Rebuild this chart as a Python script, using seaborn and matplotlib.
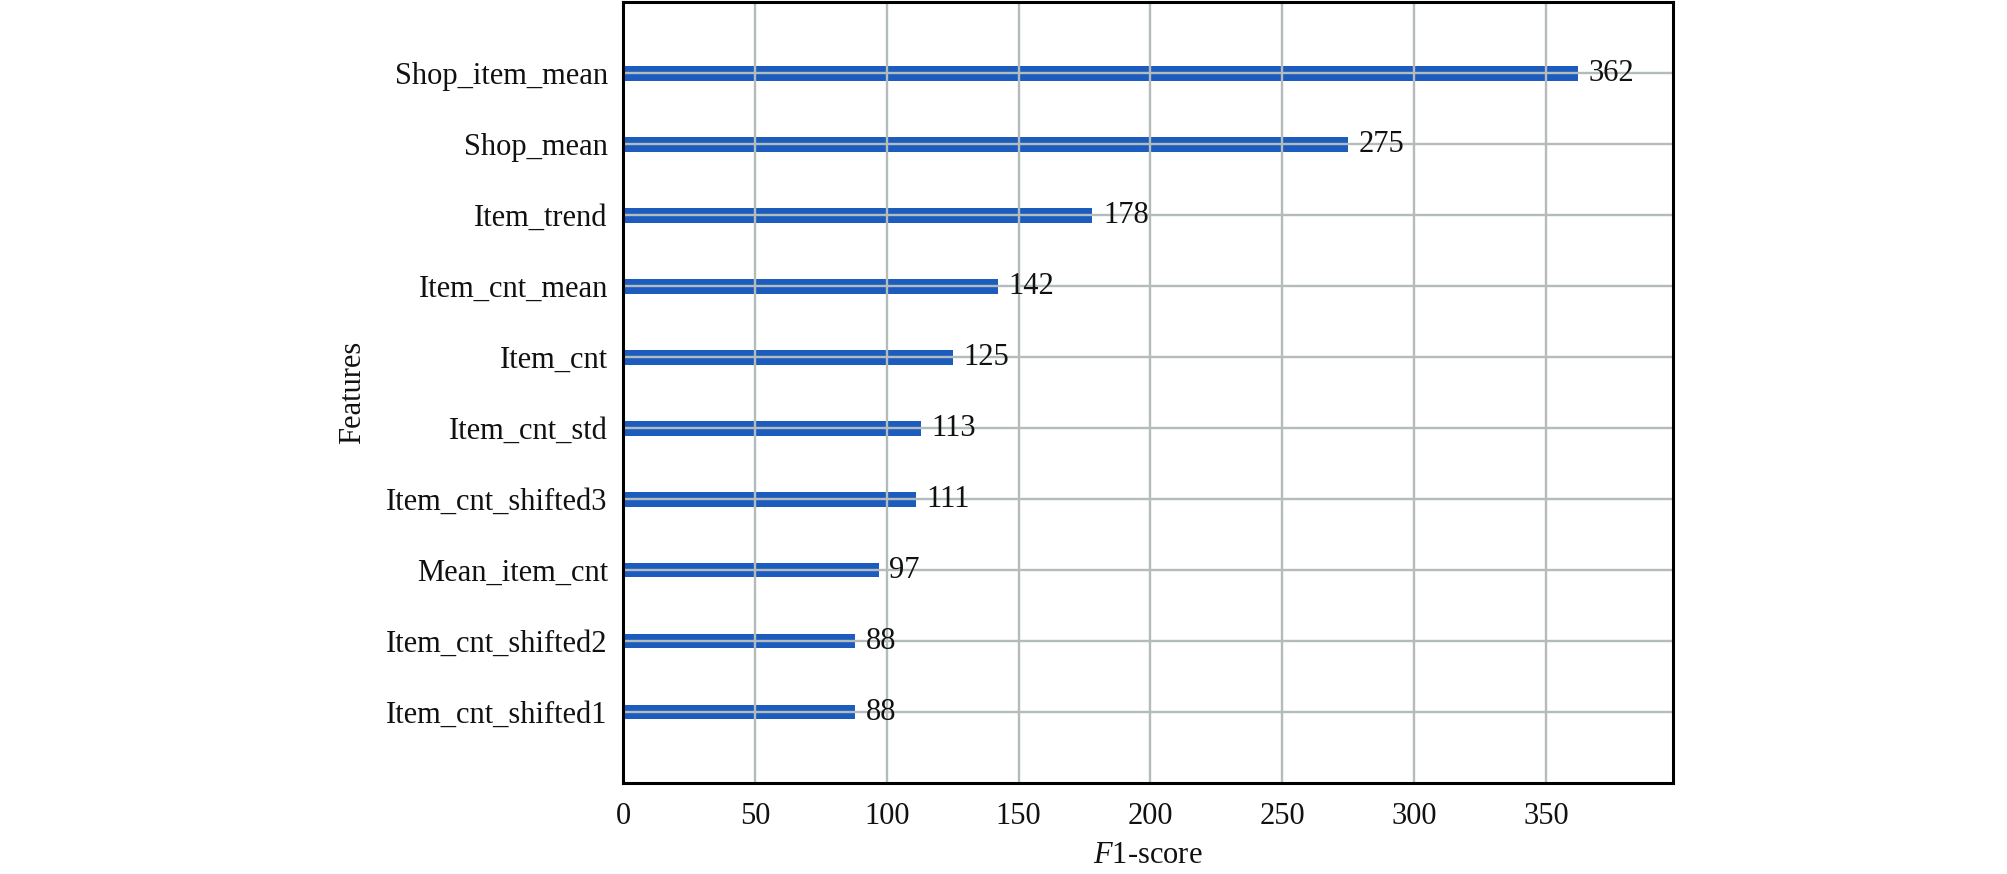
import matplotlib
matplotlib.use('Agg')
import matplotlib.pyplot as plt
import seaborn as sns
import pandas as pd

# feature importance values (F1-score)
features = ['Shop_item_mean', 'Shop_mean', 'Item_trend', 'Item_cnt_mean', 'Item_cnt',
            'Item_cnt_std', 'Item_cnt_shifted3', 'Mean_item_cnt', 'Item_cnt_shifted2',
            'Item_cnt_shifted1']
scores = [362, 275, 178, 142, 125, 113, 111, 97, 88, 88]
xticks = [0, 50, 100, 150, 200, 250, 300, 350]

df = pd.DataFrame({'feature': features, 'score': scores})

sns.set_style('white')
plt.rcParams['font.family'] = ['Liberation Serif', 'DejaVu Serif']
plt.rcParams['mathtext.fontset'] = 'custom'
plt.rcParams['mathtext.it'] = 'Liberation Serif:italic'
plt.rcParams['mathtext.rm'] = 'Liberation Serif'

fig = plt.figure(figsize=(20.08, 8.74), dpi=100)
ax = fig.add_axes([0.3103, 0.1041, 0.5229, 0.8935])

sns.barplot(data=df, x='score', y='feature', orient='h', width=0.21,
            color='#1d5cbf', saturation=1, linewidth=0, ax=ax)

# value labels next to bars
for i, v in enumerate(scores):
    ax.text(v + 4, i, str(v), va='center', ha='left', fontsize=22, color='#111111')

ax.set_xlim(0, max(scores) * 1.1)
ax.set_ylim(len(features), -1)
ax.set_xticks(xticks)

ax.set_axisbelow(False)
ax.grid(True, color='#b3bcbb', linewidth=1.7)

for s in ax.spines.values():
    s.set_visible(True)
    s.set_color('black')
    s.set_linewidth(2.2)
    s.set_zorder(4)

ax.tick_params(axis='both', direction='in', length=7, width=1.6, color='black',
               labelcolor='#111111')
ax.tick_params(axis='y', pad=11, labelsize=22)
ax.tick_params(axis='x', pad=14, labelsize=22)

ax.set_xlabel('$F$1-score', fontsize=22, labelpad=7, color='#111111')
ax.set_ylabel('Features', fontsize=22, labelpad=14, color='#111111')

fig.savefig('out.png', dpi=100)
